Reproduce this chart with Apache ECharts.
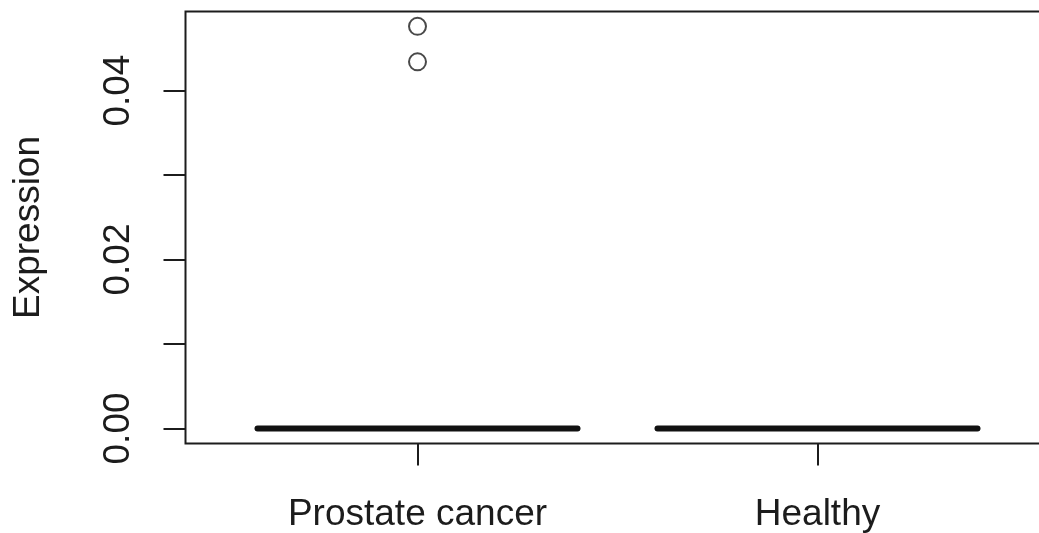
<!DOCTYPE html>
<html>
<head>
<meta charset="utf-8">
<title>Expression boxplot</title>
<script src="https://cdn.jsdelivr.net/npm/echarts@6/dist/echarts.min.js"></script>
<style>
  html, body { margin: 0; padding: 0; background: #fff; }
  #chart { width: 1039px; height: 533px; }
</style>
</head>
<body>
<div id="chart"></div>
<script>
// Groups on the x axis (placed at positions 1, 2, ...)
const categories = ['Prostate cancer', 'Healthy'];
// Five-number summaries per group: [lower whisker, Q1, median, Q3, upper whisker]
const boxStats = [
  [0, 0, 0, 0, 0],
  [0, 0, 0, 0, 0]
];
// Outliers: [group index, value]
const outliers = [
  [0, 0.0476],
  [0, 0.0434]
];
// Y axis ticks and the subset that carries labels
const yTicks = [0, 0.01, 0.02, 0.03, 0.04];
const yLabels = [0, 0.02, 0.04];

const FONT = '"Liberation Sans", Arial, Helvetica, sans-serif';
const INK = '#1c1c1c';

const boxData = boxStats.map((s, i) => [i + 1].concat(s));
const outlierData = outliers.map(o => [o[0] + 1, o[1]]);

const chart = echarts.init(document.getElementById('chart'), null, { renderer: 'canvas' });

chart.setOption({
  animation: false,
  backgroundColor: '#ffffff',
  grid: {
    left: 185.5,
    top: 11.5,
    width: 864,
    bottom: 533 - 443.5,
    show: true,
    borderColor: INK,
    borderWidth: 2,
    backgroundColor: 'transparent',
    outerBoundsMode: 'none',
    containLabel: false
  },
  xAxis: {
    type: 'value',
    min: 0.42,
    max: 2.58,
    splitLine: { show: false },
    axisLine: { show: false, onZero: false },
    axisTick: {
      show: true,
      customValues: categories.map((c, i) => i + 1),
      length: 22,
      lineStyle: { color: INK, width: 2 }
    },
    axisLabel: {
      show: true,
      customValues: categories.map((c, i) => i + 1),
      formatter: v => categories[Math.round(v) - 1] || '',
      margin: 53,
      fontFamily: FONT,
      fontSize: 37,
      color: INK
    }
  },
  yAxis: {
    type: 'value',
    min: -0.00178,
    max: 0.04936,
    name: 'Expression',
    nameLocation: 'middle',
    nameGap: 138,
    nameTextStyle: { fontFamily: FONT, fontSize: 37, color: INK },
    splitLine: { show: false },
    axisLine: { show: false, onZero: false },
    axisTick: {
      show: true,
      customValues: yTicks,
      length: 22,
      lineStyle: { color: INK, width: 2 }
    },
    axisLabel: {
      show: true,
      customValues: yLabels,
      formatter: v => v.toFixed(2),
      rotate: 90,
      margin: 48,
      fontFamily: FONT,
      fontSize: 37,
      color: INK
    }
  },
  series: [
    {
      // Box, whiskers, staples and the heavy median line for each group
      type: 'custom',
      data: boxData,
      encode: { x: 0, y: [1, 2, 3, 4, 5] },
      renderItem: function (params, api) {
        const x = api.value(0);
        const lo = api.value(1), q1 = api.value(2), med = api.value(3),
              q3 = api.value(4), hi = api.value(5);
        const halfBox = 0.4, halfStaple = 0.2;
        const pBL = api.coord([x - halfBox, q1]);
        const pTR = api.coord([x + halfBox, q3]);
        const pHi = api.coord([x, hi]), pQ3 = api.coord([x, q3]);
        const pLo = api.coord([x, lo]), pQ1 = api.coord([x, q1]);
        const sHiL = api.coord([x - halfStaple, hi]), sHiR = api.coord([x + halfStaple, hi]);
        const sLoL = api.coord([x - halfStaple, lo]), sLoR = api.coord([x + halfStaple, lo]);
        const mL = api.coord([x - halfBox, med]), mR = api.coord([x + halfBox, med]);
        const thin = { stroke: INK, lineWidth: 2, fill: null };
        return {
          type: 'group',
          children: [
            { type: 'line', shape: { x1: pHi[0], y1: pHi[1], x2: pQ3[0], y2: pQ3[1] },
              style: Object.assign({ lineDash: [8, 6] }, thin) },
            { type: 'line', shape: { x1: pLo[0], y1: pLo[1], x2: pQ1[0], y2: pQ1[1] },
              style: Object.assign({ lineDash: [8, 6] }, thin) },
            { type: 'line', shape: { x1: sHiL[0], y1: sHiL[1], x2: sHiR[0], y2: sHiR[1] }, style: thin },
            { type: 'line', shape: { x1: sLoL[0], y1: sLoL[1], x2: sLoR[0], y2: sLoR[1] }, style: thin },
            { type: 'rect', shape: { x: pBL[0], y: pTR[1], width: pTR[0] - pBL[0], height: pBL[1] - pTR[1] },
              style: thin },
            { type: 'line', shape: { x1: mL[0], y1: mL[1], x2: mR[0], y2: mR[1] },
              style: { stroke: '#111', lineWidth: 6, lineCap: 'round' } }
          ]
        };
      },
      z: 2
    },
    {
      // Outlying observations as open circles
      type: 'scatter',
      data: outlierData,
      symbol: 'circle',
      symbolSize: 17,
      itemStyle: { color: 'rgba(0,0,0,0)', borderColor: INK, borderWidth: 2 },
      z: 3
    }
  ]
});
</script>
</body>
</html>
